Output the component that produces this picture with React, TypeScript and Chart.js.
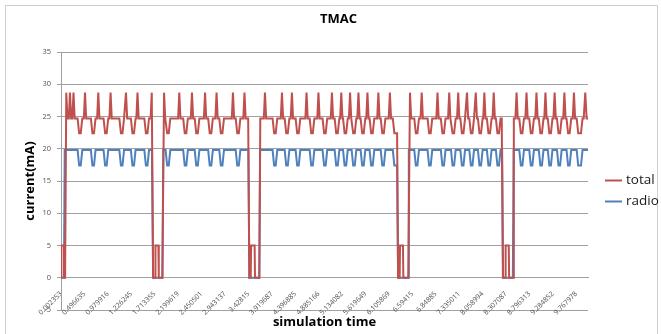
import React, { useEffect, useRef } from "react";
import { Chart, registerables } from "chart.js";

Chart.register(...registerables);

const chartTitle = "TMAC";
const xAxisTitle = "simulation time";
const yAxisTitle = "current(mA)";

// Category tick labels (every 12th sample of the time series)
const tickLabels = [
  "0.002353", "0.496635", "0.979916", "1.226245", "1.713355", "2.199619",
  "2.450501", "2.943137", "3.42815", "3.919687", "4.396885", "4.885166",
  "5.134082", "5.619649", "6.105869", "6.59415", "6.84885", "7.335011",
  "8.058994", "8.307087", "8.796313", "9.284852", "9.767978",
];
const samplesPerTick = 12;
const sampleCount = 270;

const seriesNames = ["total", "radio"];
const seriesColors = ["#C0504D", "#4F81BD"];

// [sample position, current mA] vertices
const totalSeries: [number, number][] = [
  [0, 0], [0.2, 5], [1.5, 5], [1.7, 0], [2.1, 0], [2.7, 28.7], [3.3, 24.7],
  [4.0, 24.7], [4.6, 28.7], [5.2, 24.7], [5.8, 24.7], [6.4, 28.7], [7.0, 24.7],
  [8.5, 24.7], [9.3, 22.4], [10.1, 22.4], [10.9, 24.7],
  [11.7, 24.7], [12.3, 28.7], [12.9, 24.7],
  [15.3, 24.7], [16.1, 22.4], [16.9, 22.4], [17.7, 24.7],
  [18.5, 24.7], [19.1, 28.7], [19.7, 24.7],
  [21.8, 24.7], [22.6, 22.4], [23.4, 22.4], [24.2, 24.7],
  [24.8, 24.7], [25.4, 28.7], [26.0, 24.7],
  [29.9, 24.7], [30.7, 22.4], [31.5, 22.4], [32.3, 24.7],
  [32.7, 24.7], [33.3, 28.7], [33.9, 24.7],
  [35.8, 24.7], [36.6, 22.4], [37.4, 22.4], [38.2, 24.7],
  [38.6, 24.7], [39.2, 28.7], [39.8, 24.7],
  [42.7, 24.7], [43.5, 22.4], [44.3, 22.4], [45.1, 24.7],
  [45.9, 24.7], [46.5, 28.7], [47.2, 0],
  [48.2, 0], [48.4, 5], [49.9, 5], [50.1, 0], [51.9, 0], [52.8, 28.7], [53.4, 24.7],
  [53.6, 24.7], [54.4, 22.4], [55.2, 22.4], [56.0, 24.7],
  [60.0, 24.7], [60.6, 28.7], [61.2, 24.7],
  [62.6, 24.7], [63.4, 22.4], [64.2, 22.4], [65.0, 24.7],
  [66.5, 24.7], [67.1, 28.7], [67.7, 24.7],
  [68.5, 24.7], [69.3, 22.4], [70.1, 22.4], [70.9, 24.7],
  [73.2, 24.7], [73.8, 28.7], [74.4, 24.7],
  [75.4, 24.7], [76.2, 22.4], [77.0, 22.4], [77.8, 24.7],
  [79.1, 24.7], [79.7, 28.7], [80.3, 24.7],
  [81.1, 24.7], [81.9, 22.4], [82.7, 22.4], [83.5, 24.7],
  [87.5, 24.7], [88.1, 28.7], [88.7, 24.7],
  [89.5, 24.7], [90.3, 22.4], [91.1, 22.4], [91.9, 24.7],
  [93.4, 24.7], [94.0, 28.7], [94.6, 24.7],
  [95.9, 24.7], [96.5, 0],
  [97.2, 0], [97.4, 5], [99.2, 5], [99.4, 0], [101.6, 0], [102.1, 24.7],
  [103.9, 24.7], [104.5, 28.7], [105.1, 24.7],
  [108.4, 24.7], [109.2, 22.4], [110.0, 22.4], [110.8, 24.7],
  [112.6, 24.7], [113.2, 28.7], [113.8, 24.7],
  [114.6, 24.7], [115.4, 22.4], [116.2, 22.4], [117.0, 24.7],
  [117.7, 24.7], [118.3, 28.7], [118.9, 24.7],
  [120.2, 24.7], [121.0, 22.4], [121.8, 22.4], [122.6, 24.7],
  [125.2, 24.7], [125.8, 28.7], [126.4, 24.7],
  [127.4, 24.7], [128.2, 22.4], [129.0, 22.4], [129.8, 24.7],
  [131.3, 24.7], [131.9, 28.7], [132.5, 24.7],
  [134.0, 24.7], [134.8, 22.4], [135.6, 22.4], [136.4, 24.7],
  [138.2, 24.7], [138.8, 28.7], [139.4, 24.7],
  [140.2, 24.7], [141.0, 22.4], [141.8, 22.4], [142.6, 24.7],
  [143.0, 24.7], [143.6, 28.7], [144.2, 24.7],
  [144.5, 24.7], [145.3, 22.4], [146.1, 22.4], [146.9, 24.7],
  [147.5, 24.7], [148.1, 28.7], [148.7, 24.7],
  [148.9, 24.7], [149.7, 22.4], [150.5, 22.4], [151.3, 24.7],
  [151.8, 24.7], [152.4, 28.7], [153.0, 24.7],
  [153.5, 24.7], [154.3, 22.4], [155.1, 22.4], [155.9, 24.7],
  [156.4, 24.7], [157.0, 28.7], [157.6, 24.7],
  [158.1, 24.7], [158.9, 22.4], [159.7, 22.4], [160.5, 24.7],
  [162.0, 24.7], [162.6, 28.7], [163.2, 24.7],
  [163.8, 24.7], [164.6, 22.4], [165.4, 22.4], [166.2, 24.7],
  [167.9, 24.7], [168.5, 28.7], [169.1, 24.7],
  [170.0, 24.7], [170.8, 22.4], [172.2, 22.4], [172.7, 0],
  [173.5, 0], [173.7, 5], [175.2, 5], [175.4, 0], [177.9, 0], [178.8, 28.7], [179.4, 24.7],
  [181.0, 24.7], [181.8, 22.4], [182.6, 22.4], [183.4, 24.7],
  [184.2, 24.7], [184.8, 28.7], [185.4, 24.7],
  [187.8, 24.7], [188.6, 22.4], [189.4, 22.4], [190.2, 24.7],
  [192.3, 24.7], [192.9, 28.7], [193.5, 24.7],
  [194.6, 24.7], [195.4, 22.4], [196.2, 22.4], [197.0, 24.7],
  [198.3, 24.7], [198.9, 28.7], [199.5, 24.7],
  [199.8, 24.7], [200.6, 22.4], [201.4, 22.4], [202.2, 24.7],
  [202.9, 24.7], [203.5, 28.7], [204.1, 24.7],
  [204.6, 24.7], [205.4, 22.4], [206.2, 22.4], [207.0, 24.7],
  [207.4, 24.7], [208.0, 28.7], [208.6, 24.7],
  [209.2, 24.7], [210.0, 22.4], [210.8, 22.4], [211.6, 24.7],
  [211.9, 24.7], [212.5, 28.7], [213.1, 24.7],
  [213.6, 24.7], [214.4, 22.4], [215.2, 22.4], [216.0, 24.7],
  [216.3, 24.7], [216.9, 28.7], [217.5, 24.7],
  [218.2, 24.7], [219.0, 22.4], [219.8, 22.4], [220.6, 24.7],
  [221.1, 24.7], [221.7, 28.7], [222.3, 24.7],
  [222.8, 24.7], [223.6, 22.4], [224.4, 22.4], [225.2, 24.7],
  [225.8, 24.7], [226.4, 0],
  [227.6, 0], [227.8, 5], [229.4, 5], [229.6, 0], [231.6, 0], [232.0, 24.7],
  [232.8, 24.7], [233.4, 28.7], [234.0, 24.7],
  [234.8, 24.7], [235.6, 22.4], [236.4, 22.4], [237.2, 24.7],
  [237.9, 24.7], [238.5, 28.7], [239.1, 24.7],
  [239.9, 24.7], [240.7, 22.4], [241.5, 22.4], [242.3, 24.7],
  [243.0, 24.7], [243.6, 28.7], [244.2, 24.7],
  [244.8, 24.7], [245.6, 22.4], [246.4, 22.4], [247.2, 24.7],
  [247.6, 24.7], [248.2, 28.7], [248.8, 24.7],
  [249.4, 24.7], [250.2, 22.4], [251.0, 22.4], [251.8, 24.7],
  [252.3, 24.7], [252.9, 28.7], [253.5, 24.7],
  [254.1, 24.7], [254.9, 22.4], [255.7, 22.4], [256.5, 24.7],
  [257.3, 24.7], [257.9, 28.7], [258.5, 24.7],
  [259.0, 24.7], [259.8, 22.4], [260.6, 22.4], [261.4, 24.7],
  [262.2, 24.7], [262.8, 28.7], [263.4, 24.7],
  [264.2, 24.7], [265.0, 22.4], [266.4, 22.4], [267.2, 24.7],
  [267.8, 24.7], [268.6, 28.7], [269.3, 24.7], [270, 24.7],
];

const radioSeries: [number, number][] = [
  [0, 0], [1.5, 0], [1.9, 19.8],
  [8.5, 19.8], [9.3, 17.4], [10.1, 17.4], [10.9, 19.8],
  [15.3, 19.8], [16.1, 17.4], [16.9, 17.4], [17.7, 19.8],
  [21.8, 19.8], [22.6, 17.4], [23.4, 17.4], [24.2, 19.8],
  [29.9, 19.8], [30.7, 17.4], [31.5, 17.4], [32.3, 19.8],
  [35.8, 19.8], [36.6, 17.4], [37.4, 17.4], [38.2, 19.8],
  [42.7, 19.8], [43.5, 17.4], [44.3, 17.4], [45.1, 19.8],
  [46.6, 19.8], [47.2, 0], [52.0, 0], [52.4, 19.8],
  [53.6, 19.8], [54.4, 17.4], [55.2, 17.4], [56.0, 19.8],
  [62.6, 19.8], [63.4, 17.4], [64.2, 17.4], [65.0, 19.8],
  [68.5, 19.8], [69.3, 17.4], [70.1, 17.4], [70.9, 19.8],
  [75.4, 19.8], [76.2, 17.4], [77.0, 17.4], [77.8, 19.8],
  [81.1, 19.8], [81.9, 17.4], [82.7, 17.4], [83.5, 19.8],
  [89.5, 19.8], [90.3, 17.4], [91.1, 17.4], [91.9, 19.8],
  [96.0, 19.8], [96.5, 0], [101.6, 0], [102.0, 19.8],
  [108.4, 19.8], [109.2, 17.4], [110.0, 17.4], [110.8, 19.8],
  [114.6, 19.8], [115.4, 17.4], [116.2, 17.4], [117.0, 19.8],
  [120.2, 19.8], [121.0, 17.4], [121.8, 17.4], [122.6, 19.8],
  [127.4, 19.8], [128.2, 17.4], [129.0, 17.4], [129.8, 19.8],
  [134.0, 19.8], [134.8, 17.4], [135.6, 17.4], [136.4, 19.8],
  [140.2, 19.8], [141.0, 17.4], [141.8, 17.4], [142.6, 19.8],
  [144.5, 19.8], [145.3, 17.4], [146.1, 17.4], [146.9, 19.8],
  [148.9, 19.8], [149.7, 17.4], [150.5, 17.4], [151.3, 19.8],
  [153.5, 19.8], [154.3, 17.4], [155.1, 17.4], [155.9, 19.8],
  [158.1, 19.8], [158.9, 17.4], [159.7, 17.4], [160.5, 19.8],
  [163.8, 19.8], [164.6, 17.4], [165.4, 17.4], [166.2, 19.8],
  [170.0, 19.8], [170.8, 17.4], [172.2, 17.4], [172.7, 0], [177.8, 0], [178.2, 19.8],
  [181.0, 19.8], [181.8, 17.4], [182.6, 17.4], [183.4, 19.8],
  [187.8, 19.8], [188.6, 17.4], [189.4, 17.4], [190.2, 19.8],
  [194.6, 19.8], [195.4, 17.4], [196.2, 17.4], [197.0, 19.8],
  [199.8, 19.8], [200.6, 17.4], [201.4, 17.4], [202.2, 19.8],
  [204.6, 19.8], [205.4, 17.4], [206.2, 17.4], [207.0, 19.8],
  [209.2, 19.8], [210.0, 17.4], [210.8, 17.4], [211.6, 19.8],
  [213.6, 19.8], [214.4, 17.4], [215.2, 17.4], [216.0, 19.8],
  [218.2, 19.8], [219.0, 17.4], [219.8, 17.4], [220.6, 19.8],
  [222.8, 19.8], [223.6, 17.4], [224.4, 17.4], [225.2, 19.8],
  [226.0, 19.8], [226.5, 0], [231.5, 0], [231.9, 19.8],
  [234.8, 19.8], [235.6, 17.4], [236.4, 17.4], [237.2, 19.8],
  [239.9, 19.8], [240.7, 17.4], [241.5, 17.4], [242.3, 19.8],
  [244.8, 19.8], [245.6, 17.4], [246.4, 17.4], [247.2, 19.8],
  [249.4, 19.8], [250.2, 17.4], [251.0, 17.4], [251.8, 19.8],
  [254.1, 19.8], [254.9, 17.4], [255.7, 17.4], [256.5, 19.8],
  [259.0, 19.8], [259.8, 17.4], [260.6, 17.4], [261.4, 19.8],
  [264.2, 19.8], [265.0, 17.4], [266.4, 17.4], [267.2, 19.8],
  [270, 19.8],
];

const FONT = "'Open Sans', 'DejaVu Sans', sans-serif";
const gridColor = "#a0a0a0";
const tickColor = "#505050";

const framePlugin = {
  id: "frame",
  afterDraw(chart: any) {
    const { ctx, chartArea } = chart;
    ctx.save();
    // outer chart border
    ctx.strokeStyle = "#cfcfcf";
    ctx.lineWidth = 1;
    ctx.beginPath();
    ctx.rect(5.5, 5.5, chart.width - 9, chart.height + 10);
    ctx.stroke();
    // title
    ctx.fillStyle = "#000";
    ctx.font = `bold 13px ${FONT}`;
    ctx.textAlign = "center";
    ctx.textBaseline = "middle";
    ctx.fillText(chartTitle, chart.width / 2 + 8, 19);
    // legend
    const midY = (chartArea.top + chartArea.bottom) / 2;
    chart.data.datasets.forEach((ds: any, i: number) => {
      const y = Math.round(midY - 1 + i * 21) + 0.5;
      const x0 = chartArea.right + 17;
      ctx.strokeStyle = ds.borderColor;
      ctx.lineWidth = 2;
      ctx.beginPath();
      ctx.moveTo(x0, y);
      ctx.lineTo(x0 + 17, y);
      ctx.stroke();
      ctx.fillStyle = "#1a1a1a";
      ctx.font = `13.5px ${FONT}`;
      ctx.textAlign = "left";
      ctx.textBaseline = "middle";
      ctx.fillText(ds.label, x0 + 21, y);
    });
    ctx.restore();
  },
};

export default function App() {
  const canvasRef = useRef<HTMLCanvasElement>(null);

  useEffect(() => {
    const canvas = canvasRef.current;
    if (!canvas) return;
    const series = [totalSeries, radioSeries];
    const chart = new Chart(canvas, {
      type: "line",
      data: {
        datasets: series.map((s, i) => ({
          label: seriesNames[i],
          data: s.map(([x, y]) => ({ x, y })),
          borderColor: seriesColors[i],
          backgroundColor: seriesColors[i],
          borderWidth: 2,
          pointRadius: 0,
          tension: 0,
          fill: false,
        })),
      },
      options: {
        responsive: false,
        animation: false,
        layout: { padding: { left: 0, right: 73, top: 52, bottom: 24 } },
        plugins: {
          legend: { display: false },
          title: { display: false },
          tooltip: { enabled: false },
        },
        scales: {
          x: {
            type: "linear",
            position: { y: 0 },
            min: 0,
            max: sampleCount,
            afterBuildTicks: (scale: any) => {
              scale.ticks = tickLabels.map((_, i) => ({ value: i * samplesPerTick }));
            },
            ticks: {
              autoSkip: false,
              minRotation: 45,
              maxRotation: 45,
              padding: 4,
              color: tickColor,
              font: { family: FONT, size: 7 },
              callback: (_v: any, i: number) => tickLabels[i],
            },
            grid: { display: false },
            border: { display: true, color: gridColor, width: 1 },
            title: {
              display: true,
              text: xAxisTitle,
              color: "#000",
              font: { family: FONT, size: 13, weight: "bold" },
              padding: { top: -6, bottom: 4 },
            },
          },
          y: {
            min: -5,
            max: 35,
            ticks: {
              stepSize: 5,
              padding: 6,
              color: tickColor,
              font: { family: FONT, size: 7.5 },
            },
            grid: { color: gridColor, tickLength: 4 },
            border: { color: gridColor },
            title: {
              display: true,
              text: yAxisTitle,
              color: "#000",
              font: { family: FONT, size: 13, weight: "bold" },
              padding: { top: 22, bottom: 0 },
            },
            afterFit: (scale: any) => {
              scale.width = 61;
            },
          },
        },
      },
      plugins: [framePlugin],
    } as any);
    return () => chart.destroy();
  }, []);

  return (
    <div style={{ position: "absolute", left: 0, top: 0, width: 661, height: 334, background: "#fff" }}>
      <canvas ref={canvasRef} width={661} height={334} style={{ display: "block" }} />
    </div>
  );
}
